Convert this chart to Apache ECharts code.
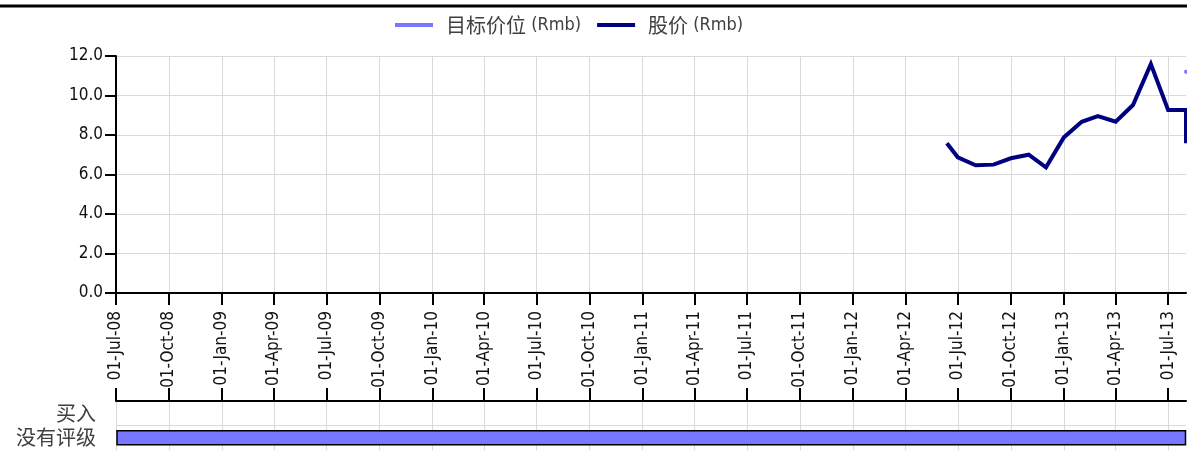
<!DOCTYPE html>
<html>
<head>
<meta charset="utf-8">
<script src="https://cdn.jsdelivr.net/npm/echarts@6/dist/echarts.min.js"></script>
<style>
html,body{margin:0;padding:0;background:#fff;}
#chart{width:1187px;height:450px;}
</style>
</head>
<body>
<div id="chart"></div>
<script>
// ---- data ----
const tickDates = ['2008-07-01','2008-10-01','2009-01-01','2009-04-01','2009-07-01','2009-10-01',
  '2010-01-01','2010-04-01','2010-07-01','2010-10-01','2011-01-01','2011-04-01','2011-07-01',
  '2011-10-01','2012-01-01','2012-04-01','2012-07-01','2012-10-01','2013-01-01','2013-04-01','2013-07-01'];
const axisStart = '2008-07-01';
const axisEnd = '2013-08-01';
const priceDates = ['2012-06-12','2012-07-01','2012-08-01','2012-09-01','2012-10-01','2012-11-01',
  '2012-12-01','2013-01-01','2013-02-01','2013-03-01','2013-04-01','2013-05-01','2013-06-01',
  '2013-07-01','2013-08-01','2013-08-01'];
const priceValues = [7.58, 6.87, 6.47, 6.50, 6.82, 7.00, 6.36, 7.88, 8.67, 8.96, 8.67, 9.52, 11.59, 9.27, 9.27, 7.58];
const targetDates = ['2013-08-01'];
const targetValues = [11.2];
const yTicks = [0, 2, 4, 6, 8, 10, 12];
const ratingCategories = ['买入', '没有评级'];
const ratingNames = ['没有评级'];
const ratingStarts = ['2008-07-01'];
const ratingEnds = ['2013-08-01'];
const seriesNames = ['目标价位 (Rmb)', '股价 (Rmb)'];
const monthNames = ['Jan','Feb','Mar','Apr','May','Jun','Jul','Aug','Sep','Oct','Nov','Dec'];

function toTs(s) { const p = s.split('-').map(Number); return Date.UTC(p[0], p[1] - 1, p[2]); }
function fmtDate(v) {
  const d = new Date(v);
  const dd = String(d.getUTCDate()).padStart(2, '0');
  const yy = String(d.getUTCFullYear() % 100).padStart(2, '0');
  return dd + '-' + monthNames[d.getUTCMonth()] + '-' + yy;
}

const latin = "'DejaVu Sans Condensed', 'Liberation Sans', sans-serif";
const cjk = "'Noto Sans CJK SC', sans-serif";
const gridColor = '#d9d9d9';
const tickVals = tickDates.map(toTs);

const chart = echarts.init(document.getElementById('chart'), null, { renderer: 'canvas' });
const option = {
  animation: false,
  backgroundColor: '#fff',
  graphic: [{
    type: 'line', z: 100,
    shape: { x1: 0, y1: 6, x2: 1187, y2: 6 },
    style: { stroke: '#000', lineWidth: 3 }
  }],
  legend: {
    left: 390, top: 8,
    icon: 'rect', itemWidth: 38, itemHeight: 4, itemGap: 16,
    data: seriesNames,
    formatter: function (name) {
      const i = name.indexOf(' ');
      return '{c|' + name.slice(0, i) + '}{l|' + name.slice(i) + '}';
    },
    textStyle: {
      color: '#404040', padding: [0, 0, 0, 8], lineHeight: 24,
      rich: {
        c: { fontFamily: cjk, fontSize: 20, lineHeight: 24, verticalAlign: 'middle', color: '#404040' },
        l: { fontFamily: latin, fontSize: 18, lineHeight: 24, verticalAlign: 'middle', color: '#404040' }
      }
    }
  },
  grid: [
    { left: 116, right: 1, top: 56, height: 237 },
    { left: 116, right: 1, top: 401, height: 52 }
  ],
  xAxis: [{
    type: 'value', gridIndex: 0,
    min: toTs(axisStart), max: toTs(axisEnd),
    axisLine: { show: true, lineStyle: { color: '#000', width: 2 } },
    axisTick: { show: true, length: 12, customValues: tickVals, lineStyle: { color: '#000', width: 2 } },
    axisLabel: {
      customValues: tickVals, rotate: 90, margin: 18,
      fontFamily: latin, fontSize: 17, color: '#111',
      formatter: function (v) { return fmtDate(v); }
    },
    splitLine: { show: true, lineStyle: { color: gridColor, width: 1 } }
  }, {
    type: 'value', gridIndex: 1, position: 'top',
    min: toTs(axisStart), max: toTs(axisEnd),
    axisLine: { show: true, lineStyle: { color: '#000', width: 2 } },
    axisTick: { show: true, length: 13, customValues: tickVals, lineStyle: { color: '#000', width: 2 } },
    axisLabel: { show: false, customValues: tickVals },
    splitLine: { show: true, lineStyle: { color: gridColor, width: 1 } }
  }],
  yAxis: [{
    type: 'value', gridIndex: 0,
    min: yTicks[0], max: yTicks[yTicks.length - 1], interval: 2,
    axisLine: { show: true, lineStyle: { color: '#000', width: 2 } },
    axisTick: { show: true, length: 11, lineStyle: { color: '#000', width: 2 } },
    axisLabel: {
      margin: 13, fontFamily: latin, fontSize: 17, color: '#111',
      formatter: function (v) { return v.toFixed(1); }
    },
    splitLine: { show: true, lineStyle: { color: gridColor, width: 1 } }
  }, {
    type: 'category', gridIndex: 1, inverse: true,
    data: ratingCategories,
    axisLine: { show: false }, axisTick: { show: false },
    axisLabel: { interval: 0, margin: 20, fontFamily: cjk, fontSize: 20, color: '#404040' },
    splitLine: { show: true, interval: 0, lineStyle: { color: gridColor, width: 1 } }
  }],
  series: [{
    name: seriesNames[0], type: 'line', xAxisIndex: 0, yAxisIndex: 0,
    data: targetDates.map((d, i) => [toTs(d), targetValues[i]]),
    showSymbol: true, symbol: 'circle', symbolSize: 4,
    itemStyle: { color: '#7777ff' },
    lineStyle: { color: '#7777ff', width: 4 }, z: 3
  }, {
    name: seriesNames[1], type: 'line', xAxisIndex: 0, yAxisIndex: 0,
    data: priceDates.map((d, i) => [toTs(d), priceValues[i]]),
    showSymbol: false, symbol: 'none',
    itemStyle: { color: '#000080' },
    lineStyle: { color: '#000080', width: 4, join: 'miter' }, z: 4
  }, {
    name: 'rating', type: 'custom', xAxisIndex: 1, yAxisIndex: 1,
    data: ratingNames.map((n, i) => [toTs(ratingStarts[i]), toTs(ratingEnds[i]), ratingCategories.indexOf(n)]),
    encode: { x: [0, 1], y: 2 },
    renderItem: function (params, api) {
      const cat = api.value(2);
      const a = api.coord([api.value(0), cat]);
      const b = api.coord([api.value(1), cat]);
      const h = api.size([0, 1])[1] * 0.58;
      return {
        type: 'rect',
        shape: { x: a[0] + 1, y: a[1] - h / 2, width: b[0] - a[0] - 1.5, height: h },
        style: { fill: '#7777ff', stroke: '#000', lineWidth: 1.5 }
      };
    }
  }]
};
chart.setOption(option);
</script>
</body>
</html>
